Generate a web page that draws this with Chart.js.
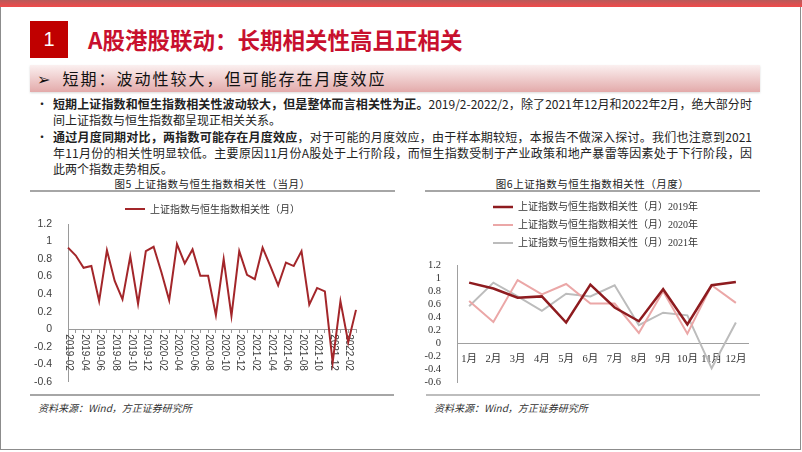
<!DOCTYPE html>
<html>
<head>
<meta charset="utf-8">
<script src="https://cdn.jsdelivr.net/npm/chart.js@4.4.1/dist/chart.umd.min.js"></script>
<style>
body { margin: 0; background: #fff; }
#slide { position: relative; width: 802px; height: 452px; overflow: hidden; font-family: "Noto Sans CJK SC", sans-serif; color: #222; }
#slide div, #slide canvas { position: absolute; }
.frame { left: 0; top: 0; width: 799px; height: 449px; border: 1px solid #8c8c8c; border-top: none; }
.topbar { left: 0; top: 0; width: 802px; height: 7px; background: linear-gradient(#b85a5a, #f04a4a); }
.numbox { left: 30px; top: 21px; width: 38px; height: 37px; background: #c00000; color: #fff; font: 20px "Liberation Sans", sans-serif; line-height: 37px; text-align: center; }
.title { left: 88px; top: 24px; font-size: 22.5px; font-weight: bold; color: #c8102e; line-height: 30px; white-space: nowrap; }
.band { left: 30px; top: 65px; width: 730px; height: 27px; background: linear-gradient(#fbf0f0, #e3aaaa); box-shadow: 0 1px 2px rgba(0,0,0,0.15); font-size: 16px; letter-spacing: 2px; line-height: 27px; white-space: nowrap; color: #111; }
.band span { font-family: "DejaVu Sans", sans-serif; font-size: 16px; margin: 0 12px 0 7px; letter-spacing: 0; }
.bul { left: 36px; font-size: 12px; line-height: 16px; }
.ln { left: 53px; width: 699px; font-size: 12px; line-height: 16px; white-space: nowrap; color: #222; }
.j { text-align: justify; text-align-last: justify; }
.ctitle { top: 176px; font-size: 10.5px; letter-spacing: 0.5px; line-height: 16px; text-align: center; color: #222; }
.rule { height: 2px; background: #a6a6a6; }
.src { top: 401px; font-size: 10px; font-style: italic; color: #333; line-height: 14px; }
</style>
</head>
<body>
<div id="slide">
  <div class="frame"></div>
  <div class="topbar"></div>
  <div class="numbox">1</div>
  <div class="title">A股港股联动：长期相关性高且正相关</div>
  <div class="band"><span>➢</span>短期：波动性较大，但可能存在月度效应</div>

  <div class="bul" style="top:96px">•</div>
  <div class="ln j" style="top:96px"><b>短期上证指数和恒生指数相关性波动较大，但是整体而言相关性为正。</b>2019/2-2022/2，除了2021年12月和2022年2月，绝大部分时</div>
  <div class="ln" style="top:112px">间上证指数与恒生指数都呈现正相关关系。</div>
  <div class="bul" style="top:129px">•</div>
  <div class="ln j" style="top:129px"><b>通过月度同期对比，两指数可能存在月度效应</b>，对于可能的月度效应，由于样本期较短，本报告不做深入探讨。我们也注意到2021</div>
  <div class="ln j" style="top:145px">年11月份的相关性明显较低。主要原因11月份A股处于上行阶段，而恒生指数受制于产业政策和地产暴雷等因素处于下行阶段，因</div>
  <div class="ln" style="top:161px">此两个指数走势相反。</div>

  <div class="ctitle" style="left:30px;width:365px">图5 上证指数与恒生指数相关性（当月）</div>
  <div class="ctitle" style="left:425px;width:335px">图6上证指数与恒生指数相关性（月度）</div>
  <div class="rule" style="left:30px;top:190px;width:365px"></div>
  <div class="rule" style="left:425px;top:190px;width:335px"></div>

  <canvas id="c1" width="365" height="202" style="left:30px;top:194px"></canvas>
  <canvas id="c2" width="361" height="203" style="left:415px;top:194px"></canvas>

  <div class="rule" style="left:30px;top:394px;width:364px"></div>
  <div class="rule" style="left:426px;top:394px;width:334px;background:#bdbdbd"></div>
  <div class="src" style="left:38px">资料来源：Wind，方正证券研究所</div>
  <div class="src" style="left:434px">资料来源：Wind，方正证券研究所</div>
</div>

<script>
// monthly correlation, Shanghai Composite vs Hang Seng
var corr2019 = [0.93, 0.84, 0.70, 0.72, 0.32, 0.90, 0.55, 0.34, 0.83, 0.29, 0.89, 0.94];
var corr2020 = [0.65, 0.33, 0.97, 0.75, 0.91, 0.61, 0.61, 0.16, 0.80, 0.15, 0.89, 0.62];
var corr2021 = [0.57, 0.93, 0.72, 0.50, 0.76, 0.72, 0.89, 0.28, 0.47, 0.43, -0.38, 0.32];
var corr2022 = [-0.15, 0.22];
var monthNames = ["1月", "2月", "3月", "4月", "5月", "6月", "7月", "8月", "9月", "10月", "11月", "12月"];
var monthLabels = [
  "2019-02", "2019-03", "2019-04", "2019-05", "2019-06", "2019-07", "2019-08", "2019-09", "2019-10", "2019-11", "2019-12",
  "2020-01", "2020-02", "2020-03", "2020-04", "2020-05", "2020-06", "2020-07", "2020-08", "2020-09", "2020-10", "2020-11", "2020-12",
  "2021-01", "2021-02", "2021-03", "2021-04", "2021-05", "2021-06", "2021-07", "2021-08", "2021-09", "2021-10", "2021-11", "2021-12",
  "2022-01", "2022-02", "2022-03"
];
var yTicksMin = -0.6, yTicksMax = 1.2, yStep = 0.2;

var allCorr = corr2019.concat(corr2020, corr2021, corr2022);

function fmtTick(v) {
  return String(Number(v.toFixed(1)));
}

// x labels of chart 5 are written top-to-bottom (turned clockwise)
var downLabels = {
  id: 'downLabels',
  beforeDatasetsDraw: function(chart) {
    var ctx = chart.ctx;
    var xs = chart.scales.x, y0 = chart.scales.y.getPixelForValue(0);
    ctx.save();
    ctx.font = '10px "Liberation Sans", sans-serif';
    ctx.fillStyle = '#404040';
    ctx.textAlign = 'left';
    ctx.textBaseline = 'middle';
    for (var i = 0; i < monthLabels.length; i += 2) {
      var px = xs.getPixelForValue(i);
      ctx.save();
      ctx.translate(px + 1, y0 + 5);
      ctx.rotate(Math.PI / 2);
      ctx.fillText(monthLabels[i], 0, 0);
      ctx.restore();
    }
    ctx.restore();
  }
};

// extra room below the legend
var legendGap = {
  id: 'legendGap',
  beforeLayout: function(chart, args, opts) {
    var lg = chart.legend;
    if (lg && !lg._gapDone && opts.extra) {
      var fit = lg.fit;
      lg.fit = function() { fit.call(this); this.height += opts.extra; };
      lg._gapDone = true;
    }
  }
};

// empty right-hand axis: keeps the plot narrow while the legend stays centred on the canvas
function spacerAxis(w) {
  return {
    position: 'right', display: true,
    ticks: { display: false }, grid: { display: false }, border: { display: false },
    afterFit: function(s) { s.width = w; }
  };
}

new Chart(document.getElementById('c1').getContext('2d'), {
  type: 'line',
  data: {
    labels: monthLabels,
    datasets: [{
      label: '上证指数与恒生指数相关性（月）',
      data: allCorr,
      borderColor: '#a3262a',
      backgroundColor: '#a3262a',
      borderWidth: 2,
      pointRadius: 0,
      tension: 0
    }]
  },
  options: {
    responsive: false,
    animation: false,
    layout: { padding: { left: 0, right: 0, top: 0, bottom: 8 } },
    plugins: {
      legend: {
        labels: {
          usePointStyle: true, pointStyle: 'line', pointStyleWidth: 20,
          padding: 10, color: '#333',
          font: { size: 10, family: '"Noto Sans CJK SC", sans-serif' }
        }
      },
      tooltip: { enabled: false }
    },
    scales: {
      x: {
        type: 'category',
        position: { y: 0 },
        ticks: { display: false, autoSkip: false },
        grid: { display: true, drawOnChartArea: false, drawTicks: true, tickLength: 3, color: '#9a9a9a' },
        border: { color: '#9a9a9a' }
      },
      y: {
        min: yTicksMin, max: yTicksMax,
        ticks: { stepSize: yStep, autoSkip: false, padding: 8, color: '#404040', callback: fmtTick, font: { size: 10.5, family: '"Liberation Sans", sans-serif' } },
        grid: { display: false },
        border: { color: '#9a9a9a' },
        afterFit: function(s) { s.width = 38; }
      },
      ySpace: spacerAxis(39)
    }
  },
  plugins: [downLabels]
});

new Chart(document.getElementById('c2').getContext('2d'), {
  type: 'line',
  data: {
    labels: monthNames,
    datasets: [
      { label: '上证指数与恒生指数相关性（月）2019年', data: corr2019, borderColor: '#8e1b1f', backgroundColor: '#8e1b1f', borderWidth: 2.5, pointRadius: 0, tension: 0 },
      { label: '上证指数与恒生指数相关性（月）2020年', data: corr2020, borderColor: '#eba7a7', backgroundColor: '#eba7a7', borderWidth: 2, pointRadius: 0, tension: 0 },
      { label: '上证指数与恒生指数相关性（月）2021年', data: corr2021, borderColor: '#bcbcbc', backgroundColor: '#bcbcbc', borderWidth: 2, pointRadius: 0, tension: 0 }
    ]
  },
  options: {
    responsive: false,
    animation: false,
    layout: { padding: { left: 0, right: 0, top: 0, bottom: 5 } },
    plugins: {
      legend: {
        labels: {
          usePointStyle: true, pointStyle: 'line', pointStyleWidth: 20,
          padding: 8, color: '#333',
          font: { size: 10, family: '"Liberation Serif", "Noto Sans CJK SC", serif' }
        }
      },
      legendGap: { extra: 7 },
      tooltip: { enabled: false }
    },
    scales: {
      x: {
        type: 'category',
        offset: true,
        position: { y: 0 },
        ticks: { padding: 9, autoSkip: false, maxRotation: 0, color: '#333', font: { size: 10.5, family: '"Liberation Serif", "Noto Sans CJK SC", serif' } },
        grid: { display: false, drawTicks: false },
        border: { color: '#a0a0a0' }
      },
      y: {
        min: yTicksMin, max: yTicksMax,
        ticks: { stepSize: yStep, autoSkip: false, padding: 8, color: '#333', callback: fmtTick, font: { size: 10.5, family: '"Liberation Serif", serif' } },
        grid: { display: false },
        border: { color: '#a0a0a0' },
        afterFit: function(s) { s.width = 42; }
      },
      ySpace: spacerAxis(28)
    }
  },
  plugins: [legendGap]
});
</script>
</body>
</html>
